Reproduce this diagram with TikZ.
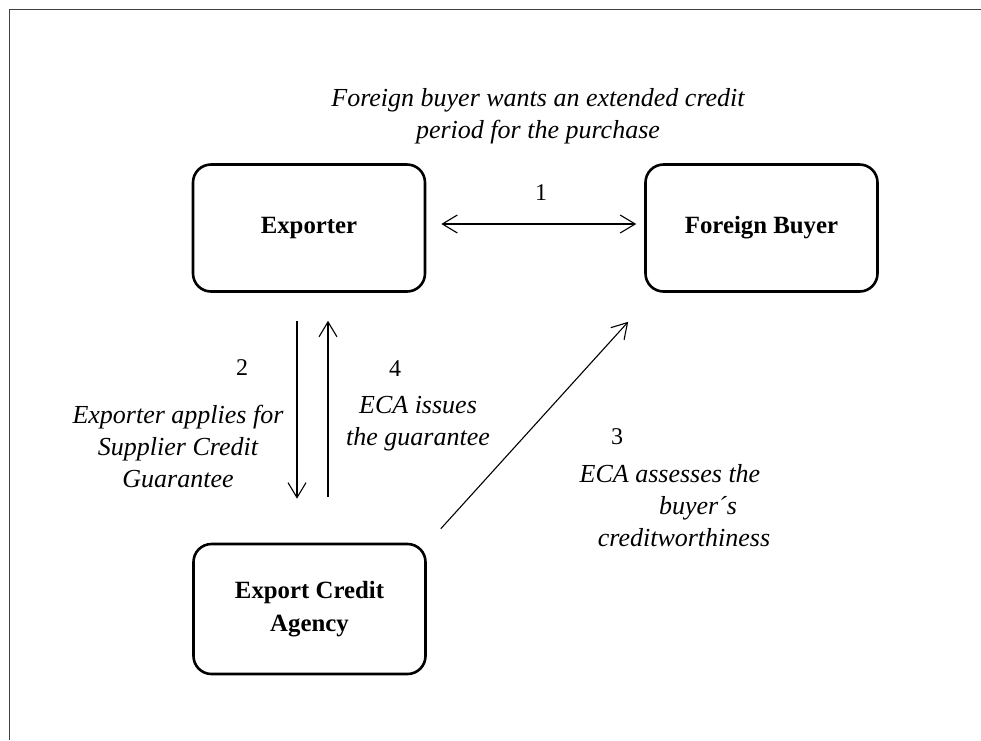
\documentclass[tikz,border=0pt]{standalone}
\usepackage{fontspec}
\setmainfont{Liberation Serif}
\usetikzlibrary{arrows.meta}
\tikzset{
  box/.style={draw, line width=2.6pt, rounded corners=18pt, minimum width=232pt, minimum height=127pt, align=center, font=\fontsize{24.8}{33}\selectfont\bfseries, inner sep=0pt},
  lbl/.style={align=center, font=\fontsize{26}{32}\selectfont\itshape, inner sep=0pt},
  num/.style={font=\fontsize{24}{29}\selectfont, inner sep=0pt},
  arr/.style={line width=1.1pt, -{Straight Barb[length=15pt,width=18pt,line width=1.1pt]}},
  darr/.style={line width=1.1pt, {Straight Barb[length=15pt,width=18pt,line width=1.1pt]}-{Straight Barb[length=15pt,width=18pt,line width=1.1pt]}}
}
\begin{document}
\begin{tikzpicture}[x=1pt,y=-1pt]
\useasboundingbox (0,0) rectangle (981,740);
\draw[line width=1pt, black!75] (9,740) -- (9,9) -- (981,9);

\node[box] (exp) at (309,228) {Exporter};
\node[box] (fb) at (761.5,228) {Foreign Buyer};
\node[box, minimum height=130pt] (eca) at (309.5,609) {Export Credit\\Agency};

\node[lbl] (title) at (538,116) {Foreign buyer wants an extended credit\\period for the purchase};
\node[num] (n1) at (541,193) {1};
\node[num] (n2) at (242,368) {2};
\node[num] (n4) at (395,369) {4};
\node[num] (n3) at (617,437) {3};
\node[lbl] (l2) at (178,446) {Exporter applies for\\Supplier Credit\\Guarantee};
\node[lbl] (l4) at (418,424) {ECA issues\\the guarantee};
\node[lbl] (l3) at (670,506) {ECA assesses the\\\hspace*{56pt}buyer´s\\\hspace*{28pt}creditworthiness};

\draw[darr] ([yshift=4pt,xshift=15pt]exp.east) -- ([yshift=4pt,xshift=-8pt]fb.west);
\draw[arr] ([xshift=-12pt,yshift=-28pt]exp.south) -- ([xshift=-12.5pt,yshift=44pt]eca.north);
\draw[arr] ([xshift=18.5pt,yshift=46pt]eca.north) -- ([xshift=19pt,yshift=-28pt]exp.south);
\draw[arr] ([xshift=14pt,yshift=14pt]eca.north east) -- ([xshift=-16pt,yshift=-29pt]fb.south west);
\end{tikzpicture}
\end{document}
